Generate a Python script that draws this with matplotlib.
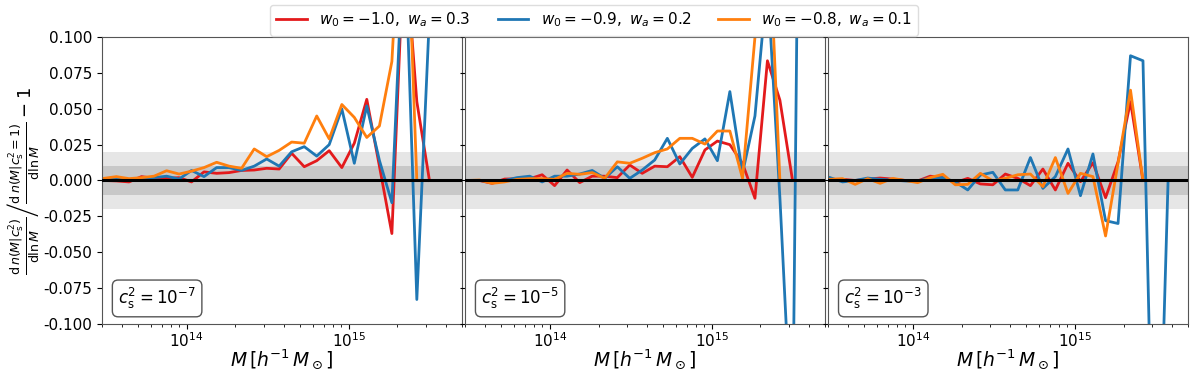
import numpy as np
import matplotlib
matplotlib.use("Agg")
import matplotlib.pyplot as plt
from matplotlib.ticker import LogLocator, NullFormatter

# ---------------- data ----------------
log_mass = [13.489, 13.566, 13.644, 13.721, 13.798, 13.876, 13.953, 14.030,
            14.107, 14.185, 14.262, 14.339, 14.417, 14.494, 14.571, 14.648,
            14.726, 14.803, 14.880, 14.958, 15.035, 15.112, 15.190, 15.267,
            15.344, 15.421, 15.499, 15.576]

labels = [r'$w_0=-1.0,\ w_a=0.3$', r'$w_0=-0.9,\ w_a=0.2$', r'$w_0=-0.8,\ w_a=0.1$']
colors = ['#e31a1c', '#1f77b4', '#ff7f0e']
panel_labels = [r'$c_\mathrm{s}^2=10^{-7}$', r'$c_\mathrm{s}^2=10^{-5}$', r'$c_\mathrm{s}^2=10^{-3}$']

# panel 1 (cs2 = 1e-7)
p1_red = [0.0, -0.0003, -0.001, 0.0027, 0.0015, 0.0015, 0.002, -0.001, 0.006, 0.005,
          0.0055, 0.007, 0.0073, 0.0085, 0.008, 0.019, 0.0096, 0.0138, 0.0208, 0.009,
          0.026, 0.0566, 0.010, -0.037, 0.17, 0.055, 0.0]
p1_blue = [0.0003, 0.001, 0.0, 0.001, 0.002, 0.003, 0.001, 0.007, 0.0027, 0.009,
           0.009, 0.007, 0.010, 0.015, 0.010, 0.020, 0.0236, 0.017, 0.025, 0.050,
           0.012, 0.052, 0.014, -0.0155, 0.18, -0.083, 0.115]
p1_orange = [0.0015, 0.0027, 0.0013, 0.002, 0.003, 0.0068, 0.0045, 0.0065, 0.009, 0.0127,
             0.010, 0.0085, 0.022, 0.0166, 0.021, 0.0268, 0.026, 0.045, 0.029, 0.053,
             0.044, 0.030, 0.038, 0.083, 0.24, 0.0]

# panel 2 (cs2 = 1e-5)
p2_red = [0.0, 0.0, -0.002, 0.001, 0.0012, 0.0012, 0.004, -0.0036, 0.0073, -0.0015,
          0.003, 0.003, 0.002, 0.0108, 0.005, 0.010, 0.0096, 0.0166, 0.0022, 0.0213,
          0.0275, 0.025, 0.012, -0.0124, 0.0835, 0.056, 0.0]
p2_blue = [0.0, 0.0, -0.001, 0.0, 0.002, 0.003, -0.001, 0.003, 0.003, 0.0045,
           0.007, 0.0015, 0.0096, 0.0015, 0.0073, 0.0143, 0.0294, 0.0115, 0.0224, 0.029,
           0.0138, 0.062, 0.005, 0.045, 0.14, -0.012, -0.19, 0.67]
p2_orange = [0.0, 0.0003, -0.002, -0.001, 0.0008, 0.0013, 0.0013, 0.0008, 0.005, 0.0043,
             0.0055, 0.0015, 0.013, 0.012, 0.0155, 0.0194, 0.022, 0.0294, 0.0294, 0.0254,
             0.0345, 0.0345, 0.0015, 0.10, 0.20, 0.0]

# panel 3 (cs2 = 1e-3)
p3_red = [0.0008, 0.0008, 0.0, 0.001, 0.0017, 0.001, 0.0, -0.0003, 0.003, 0.002,
          -0.0015, 0.0015, -0.0024, -0.003, 0.0045, 0.0015, -0.0036, 0.008, -0.0066, 0.012,
          -0.0008, 0.0124, -0.012, 0.013, 0.055, 0.0]
p3_blue = [0.002, -0.001, 0.0, 0.0017, 0.0008, 0.0003, -0.0003, -0.0006, 0.002, 0.002,
           -0.001, -0.0066, 0.0038, 0.0057, -0.0066, -0.0066, 0.016, -0.0055, 0.0027, 0.022,
           -0.0106, 0.0185, -0.028, -0.030, 0.087, 0.0835, -0.30, 0.0]
p3_orange = [0.0008, 0.0013, -0.0027, 0.0013, -0.002, 0.0015, 0.0, -0.0015, 0.002, 0.0043,
             -0.003, -0.0027, 0.005, -0.0003, 0.0015, 0.004, 0.0045, -0.0043, 0.016, -0.009,
             0.005, 0.0027, -0.0387, 0.012, 0.063, 0.0]

panels = [(p1_red, p1_blue, p1_orange),
          (p2_red, p2_blue, p2_orange),
          (p3_red, p3_blue, p3_orange)]

# ---------------- plot ----------------
plt.rcParams['font.family'] = ['DejaVu Sans']
plt.rcParams['mathtext.fontset'] = 'dejavusans'

fig, axes = plt.subplots(1, 3, figsize=(12, 3.71), dpi=100, sharey=True)
fig.subplots_adjust(left=0.085, right=0.99, top=0.9, bottom=0.127, wspace=0.009)

mass = 10 ** np.array(log_mass)

for ax, series, plab in zip(axes, panels, panel_labels):
    ax.axhspan(-0.02, 0.02, color='#e6e6e6', lw=0, zorder=0)
    ax.axhspan(-0.01, 0.01, color='#c8c8c8', lw=0, zorder=0)
    for vals, c, lab in zip(series, colors, labels):
        ax.plot(mass[:len(vals)], vals, color=c, lw=2.0, label=lab, zorder=2)
    ax.axhline(0, color='black', lw=2.2, zorder=3)
    ax.set_xscale('log')
    ax.set_xlim(3e13, 5e15)
    ax.set_ylim(-0.1, 0.1)
    ax.xaxis.set_major_locator(LogLocator(base=10, numticks=10))
    ax.xaxis.set_minor_locator(LogLocator(base=10, subs=np.arange(2, 10), numticks=10))
    ax.xaxis.set_minor_formatter(NullFormatter())
    ax.tick_params(labelsize=11)
    ax.tick_params(axis='x', pad=1.5)
    ax.set_xlabel(r'$M\,[h^{-1}\,M_\odot]$', fontsize=13.5, labelpad=-1.5)
    for s in ax.spines.values():
        s.set_color('#555555')
    ax.text(0.045, 0.045, plab, transform=ax.transAxes, fontsize=12,
            ha='left', va='bottom',
            bbox=dict(boxstyle='round,pad=0.35', fc='white', ec='#555555', lw=1))

axes[0].set_yticks([-0.1, -0.075, -0.05, -0.025, 0.0, 0.025, 0.05, 0.075, 0.1])
axes[0].yaxis.set_major_formatter(plt.FormatStrFormatter('%.3f'))
axes[0].set_ylabel(r'$\left.\frac{\mathrm{d}\,n(M|c_\mathrm{s}^2)}{\mathrm{d}\ln M}\right/'
                   r'\frac{\mathrm{d}\,n(M|c_\mathrm{s}^2=1)}{\mathrm{d}\ln M}-1$',
                   fontsize=13, labelpad=2)

handles, labs = axes[0].get_legend_handles_labels()
fig.legend(handles, labs, loc='upper center', bbox_to_anchor=(0.495, 1.0), ncol=3,
           fontsize=11, frameon=True, framealpha=1, edgecolor='#dddddd',
           columnspacing=1.8, handlelength=2.0, borderaxespad=0.3)

fig.savefig('out.png', dpi=100)
